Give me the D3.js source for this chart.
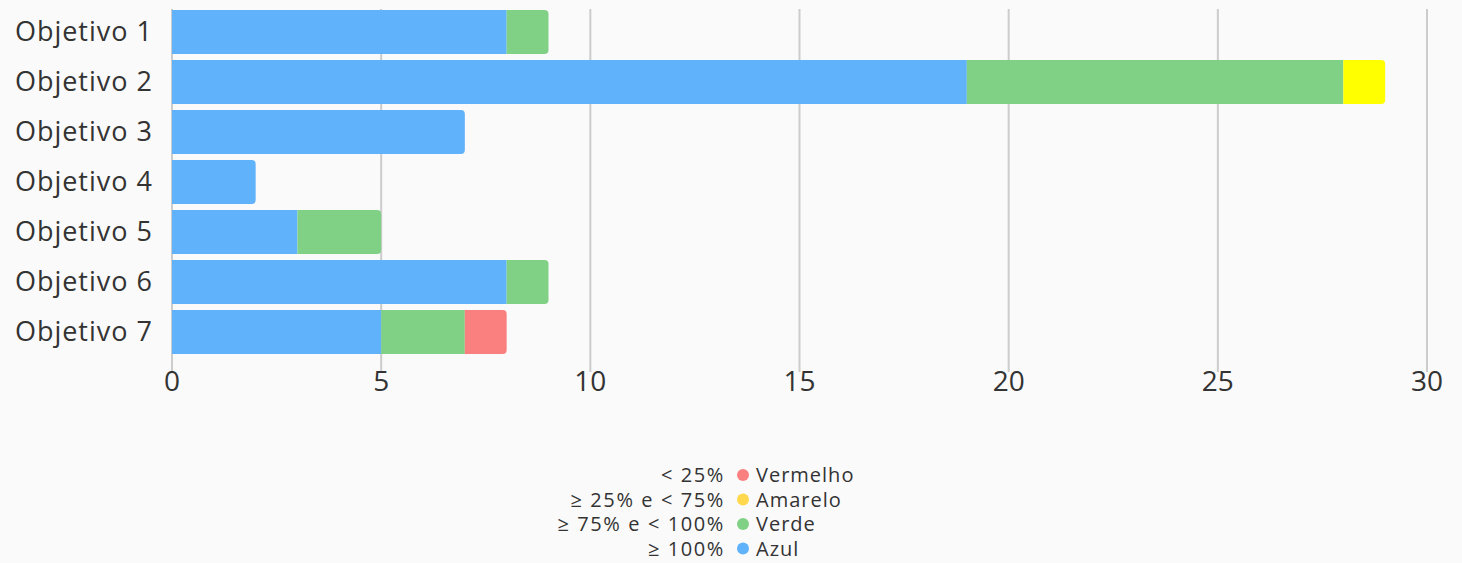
<!DOCTYPE html>
<html><head><meta charset="utf-8">
<script src="https://cdn.jsdelivr.net/npm/d3@7"></script>
<style>
body{margin:0;background:#fafafa;}
svg{display:block;font-family:"Open Sans","Noto Sans",sans-serif;}
</style></head><body>
<svg id="c" width="1462" height="563"></svg>
<script>
const categories = ["Objetivo 1","Objetivo 2","Objetivo 3","Objetivo 4","Objetivo 5","Objetivo 6","Objetivo 7"];
const azul     = [8, 19, 7, 2, 3, 8, 5];
const verde    = [1, 9, 0, 0, 2, 1, 2];
const amarelo  = [0, 1, 0, 0, 0, 0, 0];
const vermelho = [0, 0, 0, 0, 0, 0, 1];
const seriesNames = ["Azul","Verde","Amarelo","Vermelho"];
const seriesColors = ["#60b3fb","#80d185","#ffff00","#fa8080"];
const xTicks = [0,5,10,15,20,25,30];
const legendRanges = ["< 25%","≥ 25% e < 75%","≥ 75% e < 100%","≥ 100%"];
const legendNames = ["Vermelho","Amarelo","Verde","Azul"];
const legendColors = ["#fa8080","#ffd84d","#80d185","#60b3fb"];

const svg = d3.select("#c");
const x = d3.scaleLinear().domain([0,30]).range([172,1427]);
const y = d3.scaleBand().domain(categories).range([7,357]).paddingInner(0.12).paddingOuter(0.06);

// grid
svg.append("g").selectAll("line").data(xTicks).join("line")
  .attr("x1",d=>x(d)).attr("x2",d=>x(d)).attr("y1",9).attr("y2",372)
  .attr("stroke","#cccccc").attr("stroke-width",2);

const table = categories.map((c,i)=>({cat:c, Azul:azul[i], Verde:verde[i], Amarelo:amarelo[i], Vermelho:vermelho[i]}));
const stack = d3.stack().keys(seriesNames)(table);

function rectPath(x0,x1,y0,h,r){
  r = Math.min(r,(x1-x0));
  return `M${x0},${y0}H${x1-r}Q${x1},${y0} ${x1},${y0+r}V${y0+h-r}Q${x1},${y0+h} ${x1-r},${y0+h}H${x0}Z`;
}
const totals = table.map(d=>seriesNames.reduce((s,k)=>s+d[k],0));
stack.forEach((layer,si)=>{
  svg.append("g").selectAll("path").data(layer.filter(d=>d[1]>d[0])).join("path")
    .attr("fill",seriesColors[si])
    .attr("d",d=>{
      const isLast = d[1]===totals[categories.indexOf(d.data.cat)];
      return rectPath(x(d[0]),x(d[1]),y(d.data.cat),y.bandwidth(),isLast?4:0);
    });
});

// x axis labels
svg.append("g").selectAll("text").data(xTicks).join("text")
  .attr("x",d=>x(d)).attr("y",391).attr("text-anchor","middle")
  .attr("font-size",28).attr("fill","#333").text(d=>d);

// y labels
svg.append("g").selectAll("text").data(categories).join("text")
  .attr("x",153).attr("y",d=>y(d)+y.bandwidth()/2+9).attr("text-anchor","end")
  .attr("font-size",27).attr("letter-spacing",1).attr("fill","#333").text(d=>d);

// legend
const lg = svg.append("g");
legendNames.forEach((n,i)=>{
  const yy = 482 + i*24.5;
  lg.append("text").attr("x",725).attr("y",yy).attr("text-anchor","end")
    .attr("font-size",20).attr("letter-spacing",1.6).attr("fill","#333").text(legendRanges[i]);
  lg.append("circle").attr("cx",743).attr("cy",yy-7).attr("r",6).attr("fill",legendColors[i]);
  lg.append("text").attr("x",756).attr("y",yy)
    .attr("font-size",20).attr("letter-spacing",1).attr("fill","#333").text(n);
});
</script></body></html>
